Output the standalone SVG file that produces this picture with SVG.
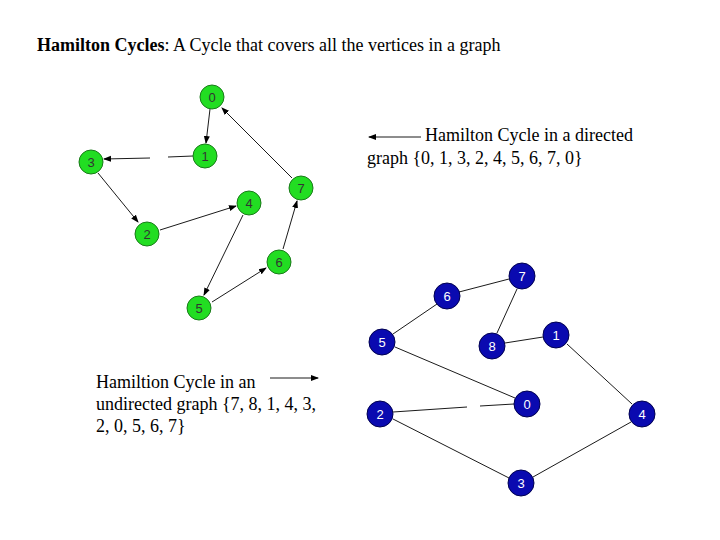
<svg xmlns="http://www.w3.org/2000/svg" width="720" height="540" viewBox="0 0 720 540">
<style>
.t{font-family:"Liberation Serif",serif;font-size:18px;fill:#000}
.g circle{fill:#22dd22;stroke:#1a7a1a;stroke-width:1}
.g text{font-family:"Liberation Sans",sans-serif;font-size:13px;fill:#333;text-anchor:middle}
.b circle{fill:#0a0ab0;stroke:#000050;stroke-width:1}
.b text{font-family:"Liberation Sans",sans-serif;font-size:13px;fill:#fff;text-anchor:middle}
.e{stroke:#000;stroke-width:0.9;fill:none}
</style>
<defs><marker id="a" markerWidth="8" markerHeight="8" refX="7" refY="4" orient="auto" markerUnits="userSpaceOnUse"><path d="M0,1 L8,4 L0,7 Z" fill="#000"/></marker></defs>
<rect width="720" height="540" fill="#fff"/>
<text class="t" x="37" y="51"><tspan font-weight="bold">Hamilton Cycles</tspan>: A Cycle that covers all the vertices in a graph</text>
<text class="t" x="633" y="141" text-anchor="end">Hamilton Cycle in a directed</text>
<text class="t" x="367" y="164">graph {0, 1, 3, 2, 4, 5, 6, 7, 0}</text>
<text class="t" x="96" y="388">Hamiltion Cycle in an</text>
<text class="t" x="96" y="410">undirected graph {7, 8, 1, 4, 3,</text>
<text class="t" x="96" y="432">2, 0, 5, 6, 7}</text>
<g id="connectors">
<line class="e" x1="421" y1="137" x2="369" y2="137" stroke-width="1.5" marker-end="url(#a)"/>
<line class="e" x1="270" y1="378" x2="318" y2="378" stroke-width="1.5" marker-end="url(#a)"/>
<line class="e" x1="210" y1="109" x2="206" y2="143" marker-end="url(#a)"/>
<line class="e" x1="193" y1="156" x2="168" y2="157"/>
<line class="e" x1="150" y1="158" x2="104" y2="159" marker-end="url(#a)"/>
<line class="e" x1="98" y1="173" x2="138" y2="222" marker-end="url(#a)"/>
<line class="e" x1="160" y1="230" x2="236" y2="206" marker-end="url(#a)"/>
<line class="e" x1="243" y1="215" x2="204" y2="295" marker-end="url(#a)"/>
<line class="e" x1="212" y1="302" x2="266" y2="268" marker-end="url(#a)"/>
<line class="e" x1="283" y1="249" x2="297" y2="201" marker-end="url(#a)"/>
<line class="e" x1="292" y1="178" x2="222" y2="108" marker-end="url(#a)"/>
<line class="e" x1="459" y1="292" x2="509" y2="279"/>
<line class="e" x1="437" y1="304" x2="393" y2="334"/>
<line class="e" x1="395" y1="347" x2="515" y2="398"/>
<line class="e" x1="517" y1="289" x2="497" y2="333"/>
<line class="e" x1="505" y1="343" x2="543" y2="337"/>
<line class="e" x1="567" y1="344" x2="632" y2="404"/>
<line class="e" x1="631" y1="422" x2="533" y2="477"/>
<line class="e" x1="509" y1="478" x2="393" y2="419"/>
<line class="e" x1="393" y1="412" x2="467" y2="407"/>
<line class="e" x1="480" y1="406" x2="514" y2="404"/>
</g>
<g class="g">
<g id="g0"><circle cx="212" cy="97" r="12"/><text x="212" y="102">0</text></g>
<g id="g1"><circle cx="205" cy="156" r="12"/><text x="205" y="161">1</text></g>
<g id="g3"><circle cx="91" cy="162" r="12"/><text x="91" y="167">3</text></g>
<g id="g2"><circle cx="147" cy="234" r="12"/><text x="147" y="239">2</text></g>
<g id="g4"><circle cx="249" cy="203" r="12"/><text x="249" y="208">4</text></g>
<g id="g7"><circle cx="301" cy="188" r="12"/><text x="301" y="193">7</text></g>
<g id="g6"><circle cx="279" cy="262" r="12"/><text x="279" y="267">6</text></g>
<g id="g5"><circle cx="199" cy="308" r="12"/><text x="199" y="313">5</text></g>
</g>
<g class="b">
<g id="b7"><circle cx="522" cy="276" r="13"/><text x="522" y="281">7</text></g>
<g id="b6"><circle cx="447" cy="296" r="13"/><text x="447" y="301">6</text></g>
<g id="b5"><circle cx="382" cy="342" r="13"/><text x="382" y="347">5</text></g>
<g id="b8"><circle cx="492" cy="346" r="13"/><text x="492" y="351">8</text></g>
<g id="b1"><circle cx="556" cy="335" r="13"/><text x="556" y="340">1</text></g>
<g id="b0"><circle cx="527" cy="404" r="13"/><text x="527" y="409">0</text></g>
<g id="b2"><circle cx="380" cy="414" r="13"/><text x="380" y="419">2</text></g>
<g id="b4"><circle cx="642" cy="414" r="13"/><text x="642" y="419">4</text></g>
<g id="b3"><circle cx="521" cy="483" r="13"/><text x="521" y="488">3</text></g>
</g>
</svg>
